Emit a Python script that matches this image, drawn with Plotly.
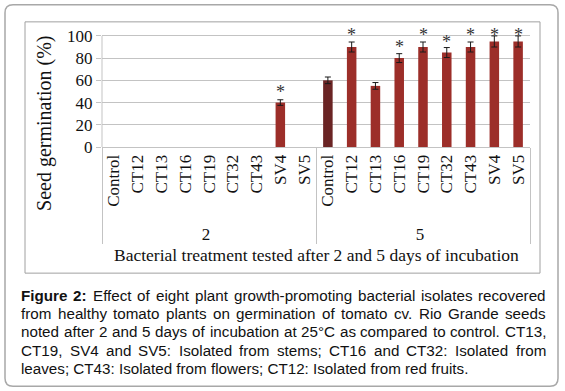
import plotly.graph_objects as go

# ---------------- data ----------------
days = ["2"] * 9 + ["5"] * 9
isolates = ["Control", "CT12", "CT13", "CT16", "CT19", "CT32", "CT43", "SV4", "SV5"]
treatments = isolates * 2
germ_day2 = [0, 0, 0, 0, 0, 0, 0, 40, 0]
germ_day5 = [60, 90, 55, 80, 90, 85, 90, 95, 95]
err_day2 = [None, None, None, None, None, None, None, 2.5, None]
err_day5 = [3, 4.5, 3, 4, 4.5, 4.5, 4.5, 5, 5]
# significance marks ('*') and the height at which each one is written
sig_day2 = ["", "", "", "", "", "", "", "*", ""]
sig_day5 = ["", "*", "", "*", "*", "*", "*", "*", "*"]
star_day2 = [None, None, None, None, None, None, None, 53.5, None]
star_day5 = [None, 104, None, 94, 104, 98.5, 104, 104, 104]
y_ticks = [0, 20, 40, 60, 80, 100]

y_title = "Seed germination (%)"
x_title = "Bacterial treatment tested after 2 and 5 days of incubation"
caption_lines = [
    "<b>Figure</b> <b>2:</b> Effect of eight plant growth-promoting bacterial isolates recovered",
    "from healthy tomato plants on germination of tomato cv. Rio Grande seeds",
    "noted after 2 and 5 days of incubation at 25°C as compared to control. CT13,",
    "CT19, SV4 and SV5: Isolated from stems; CT16 and CT32: Isolated from",
    "leaves; CT43: Isolated from flowers; CT12: Isolated from red fruits.",
]

values = germ_day2 + germ_day5
errors = err_day2 + err_day5
sigs = sig_day2 + sig_day5
stars = star_day2 + star_day5

# ---------------- styling ----------------
W, H = 565, 391
Y_MAX = 108                      # headroom so the asterisks above 100 stay visible
L, R, B = 102, 35, 244
PX_PER_UNIT = 1.11
T = H - B - Y_MAX * PX_PER_UNIT
PW, PH = W - L - R, H - T - B
SERIF = "Liberation Serif, Times New Roman, serif"
SANS = "Liberation Sans, Arial, sans-serif"
BAR = "#9C2E29"
BAR_CTRL = "#6A2424"
GRID = "#c3c3c3"


def px(x):
    return (x - L) / PW


def py(y):
    return (H - B - y) / PH


colors = [BAR_CTRL if (d == "5" and t == "Control") else BAR for d, t in zip(days, treatments)]

fig = go.Figure()
fig.add_trace(go.Bar(
    x=[days, treatments], y=values,
    marker=dict(color=colors, line=dict(width=0)),
    hoverinfo="skip",
))

# error bars only where an error was reported
ed, et, ev, ee = [], [], [], []
for d, t, v, e in zip(days, treatments, values, errors):
    if e is not None:
        ed.append(d)
        et.append(t)
        ev.append(v)
        ee.append(e)
fig.add_trace(go.Scatter(
    x=[ed, et], y=ev, mode="markers", marker=dict(size=1, opacity=0),
    error_y=dict(type="data", array=ee, visible=True, color="#1a1a1a", thickness=1, width=3),
    hoverinfo="skip",
))

annotations = []
# significance asterisks (category index on the multicategory axis, value on y)
for i, (s, y) in enumerate(zip(sigs, stars)):
    if s:
        annotations.append(dict(x=i, y=y, xref="x", yref="y", text=s, showarrow=False,
                                font=dict(family=SERIF, size=18, color="#333"),
                                xanchor="center", yanchor="middle", yshift=-4))

# ---------- caption: justified text with Arial metrics ----------
AR = {" ": 278, "(": 333, ")": 333, ",": 278, "-": 333, ".": 278, ":": 278, ";": 278, "°": 400}
for c in "0123456789":
    AR[c] = 556
AR.update(dict(zip("ABCDEFGHIJKLMNOPQRSTUVWXYZ",
                   [667, 667, 722, 722, 667, 611, 778, 722, 278, 500, 667, 556, 833, 722, 778, 667, 778, 722,
                    667, 611, 722, 667, 944, 667, 667, 611])))
AR.update(dict(zip("abcdefghijklmnopqrstuvwxyz",
                   [556, 556, 500, 556, 556, 278, 556, 556, 222, 222, 500, 222, 833, 556, 556, 556, 556, 333,
                    500, 278, 556, 500, 722, 500, 500, 500])))
ARB = {"F": 611, "i": 278, "g": 611, "u": 611, "r": 389, "e": 556, "2": 556, ":": 333}

CAP_SIZE = 15.2
CAP_L, CAP_R = 20, 545
cap_y = [295, 313.3, 331.7, 350, 368.3]


def word_width(w):
    if w.startswith("<b>"):
        core = w[3:-4]
        return sum(ARB.get(c, 556) for c in core) * CAP_SIZE / 1000
    return sum(AR.get(c, 556) for c in w) * CAP_SIZE / 1000


for li, line in enumerate(caption_lines):
    yy = py(cap_y[li])
    if li == len(caption_lines) - 1:
        annotations.append(dict(x=px(CAP_L), y=yy, xref="paper", yref="paper", text=line,
                                showarrow=False, xanchor="left", yanchor="middle", borderpad=0,
                                font=dict(family=SANS, size=CAP_SIZE, color="#111")))
        continue
    words = line.split(" ")
    widths = [word_width(w) for w in words]
    gap = (CAP_R - CAP_L - sum(widths)) / (len(words) - 1)
    x = CAP_L
    for w, wd in zip(words, widths):
        annotations.append(dict(x=px(x), y=yy, xref="paper", yref="paper", text=w,
                                showarrow=False, xanchor="left", yanchor="middle", borderpad=0,
                                font=dict(family=SANS, size=CAP_SIZE, color="#111")))
        x += wd + gap

# axis titles (placed as in the reference)
annotations.append(dict(x=px(316), y=py(255), xref="paper", yref="paper", text=x_title,
                        showarrow=False, xanchor="center", yanchor="middle",
                        font=dict(family=SERIF, size=17.5, color="#111")))
annotations.append(dict(x=px(45), y=py(123), xref="paper", yref="paper", text=y_title,
                        showarrow=False, xanchor="center", yanchor="middle", textangle=-90,
                        font=dict(family=SERIF, size=20, color="#111")))

shapes = [
    # outer rounded frame
    dict(type="path", xref="paper", yref="paper",
         path=(f"M {px(13)},{py(5)} L {px(550)},{py(5)} Q {px(558)},{py(5)} {px(558)},{py(13)} "
               f"L {px(558)},{py(378)} Q {px(558)},{py(386)} {px(550)},{py(386)} "
               f"L {px(13)},{py(386)} Q {px(5)},{py(386)} {px(5)},{py(378)} "
               f"L {px(5)},{py(13)} Q {px(5)},{py(5)} {px(13)},{py(5)} Z"),
         line=dict(color="#a8a8a8", width=1.5), layer="below"),
    # chart area border
    dict(type="rect", xref="paper", yref="paper", x0=px(25), x1=px(540), y0=py(22), y1=py(273),
         line=dict(color="#a0a0a0", width=1), layer="below"),
    # value axis line, only over the ticked range
    dict(type="line", xref="paper", yref="y", x0=0, x1=0, y0=y_ticks[0], y1=y_ticks[-1],
         line=dict(color=GRID, width=1), layer="below"),
]

fig.update_layout(
    width=W, height=H,
    margin=dict(l=L, r=R, t=T, b=B, autoexpand=False),
    paper_bgcolor="white", plot_bgcolor="white",
    showlegend=False, bargap=0.6,
    annotations=annotations, shapes=shapes,
    font=dict(family=SERIF, color="#111"),
)
fig.update_xaxes(
    type="multicategory", range=[-0.5, len(treatments) - 0.5],
    tickangle=-90, tickfont=dict(family=SERIF, size=17, color="#111"),
    showline=True, linecolor=GRID, linewidth=1, ticks="",
    showdividers=True, dividercolor=GRID, dividerwidth=1, showgrid=False,
)
fig.update_yaxes(
    range=[0, Y_MAX], tickmode="array", tickvals=y_ticks, showgrid=True, gridcolor=GRID, gridwidth=1,
    ticks="outside", ticklen=5, tickcolor=GRID, showline=False,
    tickfont=dict(family=SERIF, size=17, color="#111"), zeroline=False,
)

fig.write_html("out.html", config={"displayModeBar": False},
               post_script="document.body.style.margin='0px';")
